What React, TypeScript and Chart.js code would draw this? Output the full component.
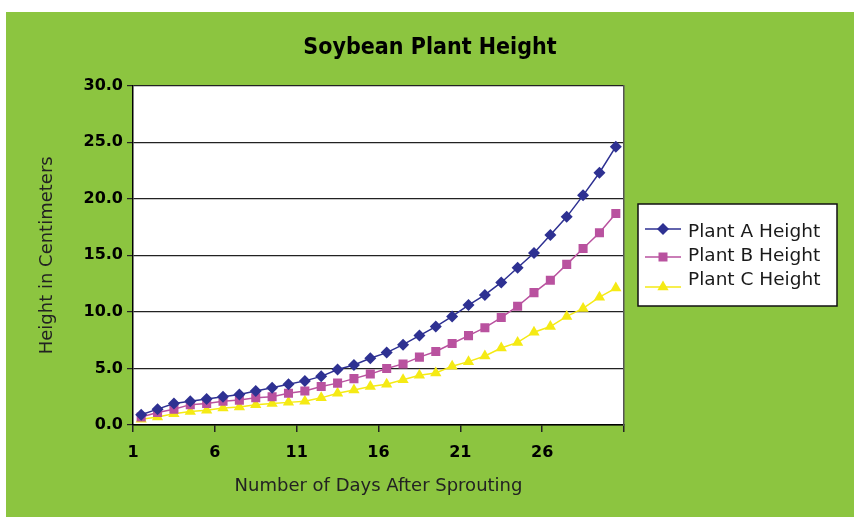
import React, { useEffect, useRef } from 'react';
import { Chart, registerables } from 'chart.js';

Chart.register(...registerables);

const days = [1, 2, 3, 4, 5, 6, 7, 8, 9, 10, 11, 12, 13, 14, 15, 16, 17, 18, 19, 20, 21, 22, 23, 24, 25, 26, 27, 28, 29, 30];
const plantA = [0.9, 1.4, 1.9, 2.1, 2.3, 2.5, 2.7, 3.0, 3.3, 3.6, 3.9, 4.3, 4.9, 5.3, 5.9, 6.4, 7.1, 7.9, 8.7, 9.6, 10.6, 11.5, 12.6, 13.9, 15.2, 16.8, 18.4, 20.3, 22.3, 24.6];
const plantB = [0.7, 1.1, 1.4, 1.8, 1.9, 2.1, 2.2, 2.4, 2.5, 2.8, 3.0, 3.4, 3.7, 4.1, 4.5, 5.0, 5.4, 6.0, 6.5, 7.2, 7.9, 8.6, 9.5, 10.5, 11.7, 12.8, 14.2, 15.6, 17.0, 18.7];
const plantC = [0.5, 0.7, 1.0, 1.2, 1.3, 1.5, 1.6, 1.8, 1.9, 2.0, 2.1, 2.4, 2.8, 3.1, 3.4, 3.6, 4.0, 4.4, 4.6, 5.2, 5.6, 6.1, 6.8, 7.3, 8.2, 8.7, 9.6, 10.3, 11.3, 12.1];
const xTickLabels = ['1', '6', '11', '16', '21', '26'];
const seriesNames = ['Plant A Height', 'Plant B Height', 'Plant C Height'];
const chartTitle = 'Soybean Plant Height';
const xTitle = 'Number of Days After Sprouting';
const yTitle = 'Height in Centimeters';

const BLUE = '#2E3192';
const PINK = '#B9529F';
const YELLOW = '#F5EA14';
const GREEN = '#8CC540';
const TEXT_FONT = '"DejaVu Sans", sans-serif';

const plotBg = {
  id: 'plotBg',
  beforeDraw(chart: any) {
    const { ctx, chartArea } = chart;
    ctx.save();
    ctx.fillStyle = '#ffffff';
    ctx.fillRect(chartArea.left, chartArea.top, chartArea.right - chartArea.left, chartArea.bottom - chartArea.top);
    ctx.restore();
  },
};

function drawMarker(ctx: CanvasRenderingContext2D, style: string, x: number, y: number, color: string) {
  ctx.fillStyle = color;
  ctx.beginPath();
  if (style === 'rectRot') {
    const r = 6;
    ctx.moveTo(x - r, y);
    ctx.lineTo(x, y - r);
    ctx.lineTo(x + r, y);
    ctx.lineTo(x, y + r);
  } else if (style === 'rect') {
    const s = 4.5;
    ctx.rect(x - s, y - s, 2 * s, 2 * s);
  } else {
    const r = 6.5;
    ctx.moveTo(x, y - r);
    ctx.lineTo(x + r * 0.866, y + r * 0.5);
    ctx.lineTo(x - r * 0.866, y + r * 0.5);
  }
  ctx.closePath();
  ctx.fill();
}

const boxLegend = {
  id: 'boxLegend',
  afterDraw(chart: any) {
    const ctx: CanvasRenderingContext2D = chart.ctx;
    ctx.save();
    ctx.fillStyle = '#ffffff';
    ctx.fillRect(632, 192, 199, 102);
    ctx.strokeStyle = '#111';
    ctx.lineWidth = 1.5;
    ctx.strokeRect(632, 192, 199, 102);
    const lineYs = [217, 245, 275];
    const textYs = [220, 244, 268];
    chart.data.datasets.forEach((ds: any, i: number) => {
      ctx.strokeStyle = ds.borderColor;
      ctx.lineWidth = 1.5;
      ctx.beginPath();
      ctx.moveTo(639, lineYs[i]);
      ctx.lineTo(675, lineYs[i]);
      ctx.stroke();
      drawMarker(ctx, ds.pointStyle, 657, lineYs[i], ds.pointBackgroundColor);
      ctx.fillStyle = '#1a1a1a';
      ctx.font = `18.5px ${TEXT_FONT}`;
      ctx.textAlign = 'left';
      ctx.textBaseline = 'middle';
      ctx.fillText(ds.label, 682, textYs[i]);
    });
    ctx.restore();
  },
};

export default function App() {
  const ref = useRef<HTMLCanvasElement | null>(null);

  useEffect(() => {
    if (!ref.current) return;
    const tickFont = { family: '"DejaVu Sans", sans-serif', size: 16, weight: 'bold' as const };
    const titleFont = { family: TEXT_FONT, size: 18 };
    const mk = (label: string, vals: number[], color: string, style: string, r: number) => ({
      label,
      data: days.map((d, i) => ({ x: d, y: vals[i] })),
      borderColor: color,
      backgroundColor: color,
      pointBackgroundColor: color,
      pointBorderColor: color,
      pointBorderWidth: 0,
      pointStyle: style,
      pointRadius: r,
      borderWidth: 1.5,
      tension: 0,
    });
    const chart = new Chart(ref.current, {
      type: 'line',
      data: {
        datasets: [
          mk(seriesNames[0], plantA, BLUE, 'rectRot', 6),
          mk(seriesNames[1], plantB, PINK, 'rect', 6.4),
          mk(seriesNames[2], plantC, YELLOW, 'triangle', 6.5),
        ] as any,
      },
      options: {
        animation: false,
        responsive: false,
        maintainAspectRatio: false,
        layout: { padding: 0 },
        plugins: {
          legend: { display: false },
          tooltip: { enabled: false },
          title: {
            display: true,
            text: chartTitle,
            color: '#000',
            font: { family: '"DejaVu Sans Condensed", "DejaVu Sans", sans-serif', size: 23, weight: 'bold' },
            padding: { top: 22, bottom: 24 },
          },
        },
        scales: {
          x: {
            type: 'linear',
            min: days[0] - 0.5,
            max: days[days.length - 1] + 0.5,
            afterBuildTicks: (s: any) => {
              const vals = xTickLabels.map((_, i) => days[i * 5] - 0.5);
              vals.push(days[days.length - 1] + 0.5);
              s.ticks = vals.map((v) => ({ value: v }));
            },
            afterFit: (s: any) => {
              s.height = 92;
            },
            grid: { display: true, drawOnChartArea: false, drawTicks: true, tickLength: 7, color: '#222', lineWidth: 1.5 },
            border: { display: true, color: '#000', width: 1.5 },
            ticks: {
              font: tickFont,
              color: '#000',
              padding: 11,
              maxRotation: 0,
              autoSkip: false,
              callback: (_v: any, i: number) => xTickLabels[i] ?? '',
            },
            title: { display: true, text: xTitle, font: titleFont, color: '#222', padding: { top: 0, bottom: 19.5 } },
          },
          y: {
            min: 0,
            max: 30,
            afterFit: (s: any) => {
              s.width = 127;
            },
            ticks: {
              stepSize: 5,
              font: tickFont,
              color: '#000',
              padding: 4,
              callback: (v: any) => Number(v).toFixed(1),
            },
            grid: { color: '#222', lineWidth: 1.2, tickLength: 6, drawTicks: true },
            border: { display: true, color: '#000', width: 1.5 },
            title: { display: true, text: yTitle, font: titleFont, color: '#222', padding: { top: 31, bottom: 0 } },
          },
          y2: {
            position: 'right',
            display: true,
            grid: { display: false, drawTicks: false },
            ticks: { display: false },
            border: { display: true, color: '#555', width: 1.5 },
            afterFit: (s: any) => {
              s.width = 230;
            },
          },
        },
      } as any,
      plugins: [plotBg, boxLegend],
    });
    return () => chart.destroy();
  }, []);

  return (
    <div style={{ position: 'absolute', left: 0, top: 0, width: 854, height: 517, background: '#ffffff' }}>
      <div style={{ position: 'absolute', left: 6, top: 12, width: 848, height: 505, background: GREEN }}>
        <canvas ref={ref} width={848} height={505} style={{ width: 848, height: 505, display: 'block' }} />
      </div>
    </div>
  );
}
